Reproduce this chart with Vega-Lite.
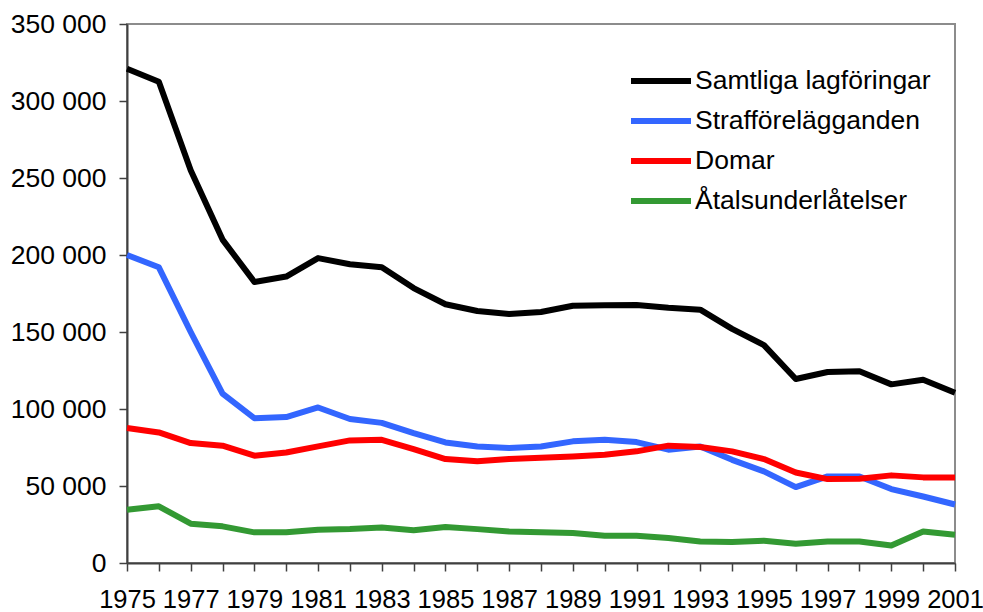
{
  "$schema": "https://vega.github.io/schema/vega-lite/v6.json",
  "width": 828,
  "height": 539,
  "autosize": {"type": "none"},
  "padding": {"left": 127, "top": 24, "right": 28, "bottom": 49},
  "background": "white",
  "config": {
    "font": "Liberation Sans",
    "view": {"stroke": "#8c8c8c", "strokeWidth": 2},
    "axis": {"grid": false, "domainColor": "#404040", "domainWidth": 2, "tickColor": "#404040", "tickWidth": 1.5, "tickSize": 8, "labelFont": "Liberation Sans", "labelColor": "#000000", "title": null}
  },
  "data": {"values": [
    {"year": 1975, "series": "Samtliga lagföringar", "value": 321000},
    {"year": 1976, "series": "Samtliga lagföringar", "value": 312500},
    {"year": 1977, "series": "Samtliga lagföringar", "value": 255000},
    {"year": 1978, "series": "Samtliga lagföringar", "value": 210000},
    {"year": 1979, "series": "Samtliga lagföringar", "value": 182500},
    {"year": 1980, "series": "Samtliga lagföringar", "value": 186000},
    {"year": 1981, "series": "Samtliga lagföringar", "value": 198000},
    {"year": 1982, "series": "Samtliga lagföringar", "value": 194000},
    {"year": 1983, "series": "Samtliga lagföringar", "value": 192000},
    {"year": 1984, "series": "Samtliga lagföringar", "value": 178500},
    {"year": 1985, "series": "Samtliga lagföringar", "value": 168000},
    {"year": 1986, "series": "Samtliga lagföringar", "value": 163600},
    {"year": 1987, "series": "Samtliga lagföringar", "value": 161700},
    {"year": 1988, "series": "Samtliga lagföringar", "value": 163000},
    {"year": 1989, "series": "Samtliga lagföringar", "value": 167000},
    {"year": 1990, "series": "Samtliga lagföringar", "value": 167300},
    {"year": 1991, "series": "Samtliga lagföringar", "value": 167500},
    {"year": 1992, "series": "Samtliga lagföringar", "value": 165700},
    {"year": 1993, "series": "Samtliga lagföringar", "value": 164500},
    {"year": 1994, "series": "Samtliga lagföringar", "value": 152000},
    {"year": 1995, "series": "Samtliga lagföringar", "value": 141500},
    {"year": 1996, "series": "Samtliga lagföringar", "value": 119500},
    {"year": 1997, "series": "Samtliga lagföringar", "value": 124000},
    {"year": 1998, "series": "Samtliga lagföringar", "value": 124500},
    {"year": 1999, "series": "Samtliga lagföringar", "value": 116000},
    {"year": 2000, "series": "Samtliga lagföringar", "value": 119000},
    {"year": 2001, "series": "Samtliga lagföringar", "value": 110500},
    {"year": 1975, "series": "Strafförelägganden", "value": 200000},
    {"year": 1976, "series": "Strafförelägganden", "value": 192000},
    {"year": 1977, "series": "Strafförelägganden", "value": 150000},
    {"year": 1978, "series": "Strafförelägganden", "value": 110000},
    {"year": 1979, "series": "Strafförelägganden", "value": 94000},
    {"year": 1980, "series": "Strafförelägganden", "value": 94800},
    {"year": 1981, "series": "Strafförelägganden", "value": 101000},
    {"year": 1982, "series": "Strafförelägganden", "value": 93500},
    {"year": 1983, "series": "Strafförelägganden", "value": 91000},
    {"year": 1984, "series": "Strafförelägganden", "value": 84400},
    {"year": 1985, "series": "Strafförelägganden", "value": 78300},
    {"year": 1986, "series": "Strafförelägganden", "value": 75700},
    {"year": 1987, "series": "Strafförelägganden", "value": 74700},
    {"year": 1988, "series": "Strafförelägganden", "value": 75700},
    {"year": 1989, "series": "Strafförelägganden", "value": 79000},
    {"year": 1990, "series": "Strafförelägganden", "value": 80000},
    {"year": 1991, "series": "Strafförelägganden", "value": 78500},
    {"year": 1992, "series": "Strafförelägganden", "value": 73600},
    {"year": 1993, "series": "Strafförelägganden", "value": 75700},
    {"year": 1994, "series": "Strafförelägganden", "value": 67000},
    {"year": 1995, "series": "Strafförelägganden", "value": 59500},
    {"year": 1996, "series": "Strafförelägganden", "value": 49300},
    {"year": 1997, "series": "Strafförelägganden", "value": 56200},
    {"year": 1998, "series": "Strafförelägganden", "value": 56200},
    {"year": 1999, "series": "Strafförelägganden", "value": 48000},
    {"year": 2000, "series": "Strafförelägganden", "value": 43200},
    {"year": 2001, "series": "Strafförelägganden", "value": 38000},
    {"year": 1975, "series": "Domar", "value": 87700},
    {"year": 1976, "series": "Domar", "value": 84800},
    {"year": 1977, "series": "Domar", "value": 77900},
    {"year": 1978, "series": "Domar", "value": 76200},
    {"year": 1979, "series": "Domar", "value": 69700},
    {"year": 1980, "series": "Domar", "value": 71800},
    {"year": 1981, "series": "Domar", "value": 75700},
    {"year": 1982, "series": "Domar", "value": 79600},
    {"year": 1983, "series": "Domar", "value": 80000},
    {"year": 1984, "series": "Domar", "value": 74000},
    {"year": 1985, "series": "Domar", "value": 67500},
    {"year": 1986, "series": "Domar", "value": 66000},
    {"year": 1987, "series": "Domar", "value": 67500},
    {"year": 1988, "series": "Domar", "value": 68400},
    {"year": 1989, "series": "Domar", "value": 69200},
    {"year": 1990, "series": "Domar", "value": 70300},
    {"year": 1991, "series": "Domar", "value": 72500},
    {"year": 1992, "series": "Domar", "value": 76200},
    {"year": 1993, "series": "Domar", "value": 75300},
    {"year": 1994, "series": "Domar", "value": 72500},
    {"year": 1995, "series": "Domar", "value": 67500},
    {"year": 1996, "series": "Domar", "value": 58800},
    {"year": 1997, "series": "Domar", "value": 54500},
    {"year": 1998, "series": "Domar", "value": 54700},
    {"year": 1999, "series": "Domar", "value": 56900},
    {"year": 2000, "series": "Domar", "value": 55600},
    {"year": 2001, "series": "Domar", "value": 55600},
    {"year": 1975, "series": "Åtalsunderlåtelser", "value": 34600},
    {"year": 1976, "series": "Åtalsunderlåtelser", "value": 36800},
    {"year": 1977, "series": "Åtalsunderlåtelser", "value": 25500},
    {"year": 1978, "series": "Åtalsunderlåtelser", "value": 23800},
    {"year": 1979, "series": "Åtalsunderlåtelser", "value": 19900},
    {"year": 1980, "series": "Åtalsunderlåtelser", "value": 19900},
    {"year": 1981, "series": "Åtalsunderlåtelser", "value": 21600},
    {"year": 1982, "series": "Åtalsunderlåtelser", "value": 22000},
    {"year": 1983, "series": "Åtalsunderlåtelser", "value": 23100},
    {"year": 1984, "series": "Åtalsunderlåtelser", "value": 21200},
    {"year": 1985, "series": "Åtalsunderlåtelser", "value": 23400},
    {"year": 1986, "series": "Åtalsunderlåtelser", "value": 22000},
    {"year": 1987, "series": "Åtalsunderlåtelser", "value": 20500},
    {"year": 1988, "series": "Åtalsunderlåtelser", "value": 19900},
    {"year": 1989, "series": "Åtalsunderlåtelser", "value": 19500},
    {"year": 1990, "series": "Åtalsunderlåtelser", "value": 17700},
    {"year": 1991, "series": "Åtalsunderlåtelser", "value": 17700},
    {"year": 1992, "series": "Åtalsunderlåtelser", "value": 16200},
    {"year": 1993, "series": "Åtalsunderlåtelser", "value": 14000},
    {"year": 1994, "series": "Åtalsunderlåtelser", "value": 13600},
    {"year": 1995, "series": "Åtalsunderlåtelser", "value": 14500},
    {"year": 1996, "series": "Åtalsunderlåtelser", "value": 12500},
    {"year": 1997, "series": "Åtalsunderlåtelser", "value": 14000},
    {"year": 1998, "series": "Åtalsunderlåtelser", "value": 14000},
    {"year": 1999, "series": "Åtalsunderlåtelser", "value": 11400},
    {"year": 2000, "series": "Åtalsunderlåtelser", "value": 20500},
    {"year": 2001, "series": "Åtalsunderlåtelser", "value": 18400}
  ]},
  "mark": {"type": "line", "strokeWidth": 6, "strokeJoin": "round", "strokeCap": "butt"},
  "encoding": {
    "x": {
      "field": "year", "type": "quantitative",
      "scale": {"domain": [1975, 2001], "nice": false, "zero": false},
      "axis": {
        "values": [1975,1976,1977,1978,1979,1980,1981,1982,1983,1984,1985,1986,1987,1988,1989,1990,1991,1992,1993,1994,1995,1996,1997,1998,1999,2000,2001],
        "labelExpr": "datum.value % 2 == 1 ? format(datum.value, 'd') : ''",
        "labelFontSize": 25.5,
        "labelFlush": false, "labelBound": false, "labelOverlap": false,
        "labelPadding": 16
      }
    },
    "y": {
      "field": "value", "type": "quantitative",
      "scale": {"domain": [0, 350000], "nice": false},
      "axis": {
        "values": [0, 50000, 100000, 150000, 200000, 250000, 300000, 350000],
        "labelExpr": "replace(format(datum.value, ','), ',', ' ')",
        "labelFontSize": 26.5,
        "labelPadding": 13, "labelOverlap": false, "labelFlush": false, "labelBound": false
      }
    },
    "color": {
      "field": "series", "type": "nominal",
      "scale": {
        "domain": ["Samtliga lagföringar", "Strafförelägganden", "Domar", "Åtalsunderlåtelser"],
        "range": ["#000000", "#3366ff", "#ff0000", "#339933"]
      },
      "legend": {
        "title": null, "orient": "none", "legendX": 516, "legendY": 39,
        "symbolType": "M-2,0H2", "symbolStrokeWidth": 6, "symbolSize": 900,
        "labelFont": "Liberation Sans", "labelFontSize": 26.5, "labelColor": "#000000",
        "labelOffset": 16, "rowPadding": 8, "labelLimit": 400
      }
    },
    "order": {"field": "year"}
  }
}
